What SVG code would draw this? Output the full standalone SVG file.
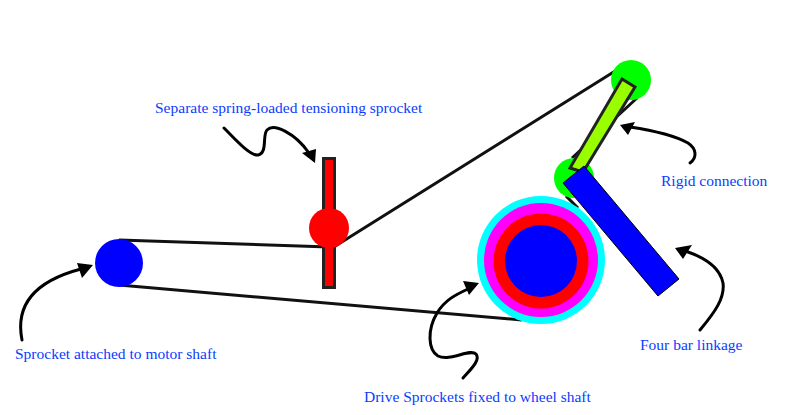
<svg xmlns="http://www.w3.org/2000/svg" width="795" height="415" viewBox="0 0 795 415">
<style>
text{font-family:"Liberation Serif","Times New Roman",serif;font-size:15.500px;fill:#0a3cff}
.belt{fill:none;stroke:#111;stroke-width:3}
.lead{fill:none;stroke:#000;stroke-width:3;stroke-linecap:round}
.head{fill:#000}
</style>
<rect width="795" height="415" fill="#fff"/>
<g id="connectors">
<path class="belt" d="M119 240L329 247M119 285L522 320M329 250L620 68"/>
<path class="belt" d="M637 98L572 158M566 196L578 208"/>
</g>
<g id="drive-sprockets">
<circle cx="541" cy="260" r="64" fill="#00ffff"/>
<circle cx="541" cy="260" r="57" fill="#ff00ff"/>
<circle cx="541" cy="261" r="47.500" fill="#ff0000"/>
<circle cx="541" cy="261" r="36" fill="#0000ff"/>
</g>
<g id="motor-sprocket"><circle cx="119" cy="263" r="24" fill="#0000ff"/></g>
<g id="tensioner">
<rect x="323.500" y="158.500" width="11" height="129" fill="#ff0000" stroke="#222" stroke-width="3"/>
<circle cx="329" cy="228" r="20" fill="#ff0000"/>
</g>
<g id="upper-sprocket"><circle cx="631" cy="80" r="20" fill="#00ff00"/></g>
<g id="lower-sprocket"><circle cx="574" cy="178" r="20" fill="#00ff00"/></g>
<g id="rigid-link"><polygon points="622,79 635,87 583,172 570,168" fill="#99ff00" stroke="#222" stroke-width="3"/></g>
<g id="four-bar-linkage"><polygon points="563,183 584,166 679,279 658,296" fill="#0000ff" stroke="#000" stroke-width="1"/></g>
<g id="lead-tensioner">
<path class="lead" d="M224 128C235 139 250 156 258 155C268 153 262 135 267 130C274 123 295 133 309 153"/>
<polygon class="head" points="302,153 316,149 315,163"/>
<text x="155" y="113">Separate spring-loaded tensioning sprocket</text>
</g>
<g id="lead-rigid">
<path class="lead" d="M690 163C697 158 697 149 688 143C672 134 650 130 630 127"/>
<polygon class="head" points="620,125 635,122 628,135"/>
<text x="661" y="186">Rigid connection</text>
</g>
<g id="lead-linkage">
<path class="lead" d="M700 330C715 312 725 298 723 283C720 268 705 258 688 252"/>
<polygon class="head" points="675,248 692,245 683,259"/>
<text x="640" y="350">Four bar linkage</text>
</g>
<g id="lead-motor">
<path class="lead" d="M22 340C16 310 28 283 81 269"/>
<polygon class="head" points="93,265 77,263 82,278"/>
<text x="15" y="359">Sprocket attached to motor shaft</text>
</g>
<g id="lead-drive">
<path class="lead" d="M463 378C470 370 481 360 476 354C470 348 450 362 438 356C428 350 427 330 437 313C445 300 455 295 468 289"/>
<polygon class="head" points="479,283 463,281 469,295"/>
<text x="364" y="402">Drive Sprockets fixed to wheel shaft</text>
</g>
</svg>
